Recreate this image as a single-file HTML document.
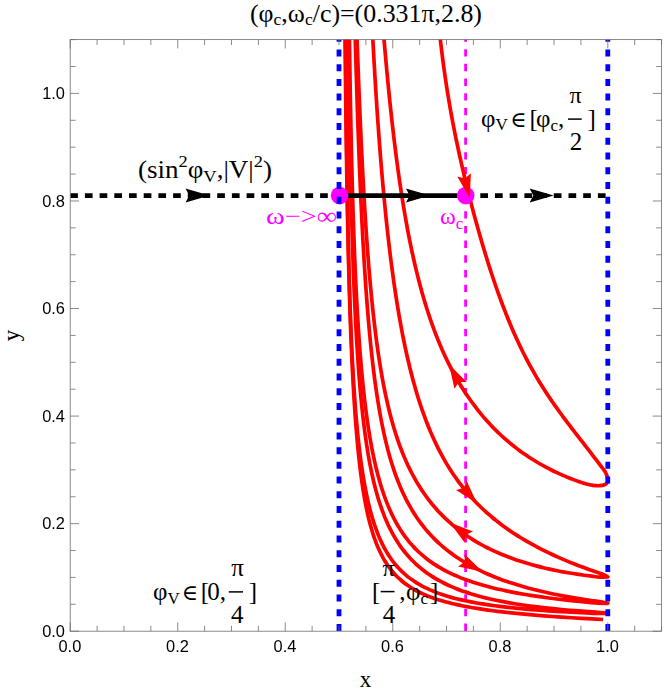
<!DOCTYPE html>
<html><head><meta charset="utf-8"><title>plot</title><style>html,body{margin:0;padding:0;background:#fff}svg{display:block}text{font-family:"Liberation Serif","DejaVu Serif",serif}.t{font-family:"Liberation Sans",sans-serif;font-size:16.4px;fill:#000}</style></head><body>
<svg width="664" height="695" viewBox="0 0 664 695">
<rect width="664" height="695" fill="#fff"/>
<defs><filter id="idf" x="0" y="0" width="664" height="695" filterUnits="userSpaceOnUse"><feOffset dx="0" dy="0"/></filter><clipPath id="cp"><rect x="70.20" y="39.62" width="591.36" height="591.58"/></clipPath></defs>
<g clip-path="url(#cp)">
<line x1="70.20" y1="195.58" x2="339.00" y2="195.58" stroke="#000" stroke-width="4.8" stroke-dasharray="7.7 7.0"/>
<line x1="465.60" y1="195.58" x2="607.80" y2="195.58" stroke="#000" stroke-width="4.8" stroke-dasharray="7.7 7.0"/>
<path d="M209.60 195.58 L185.60 202.58 L189.20 195.58 L185.60 188.58 Z" fill="#000"/>
<path d="M553.70 195.58 L529.70 202.58 L533.30 195.58 L529.70 188.58 Z" fill="#000"/>
<line x1="465.60" y1="630.90" x2="465.60" y2="39.62" stroke="#ff00ff" stroke-width="2.8" stroke-dasharray="7.3 7.43"/>
<path d="M439.68 33.62C439.86 35.25 440.41 40.22 440.78 43.39C441.15 46.56 441.53 49.65 441.90 52.67C442.28 55.69 442.65 58.62 443.03 61.50C443.41 64.38 443.79 67.19 444.17 69.94C444.56 72.70 444.94 75.38 445.33 78.03C445.71 80.67 446.10 83.25 446.49 85.80C446.89 88.34 447.28 90.83 447.67 93.29C448.07 95.74 448.47 98.15 448.87 100.52C449.27 102.90 449.67 105.23 450.07 107.54C450.48 109.84 450.88 112.11 451.29 114.36C451.70 116.60 452.11 118.81 452.52 121.00C452.94 123.19 453.35 125.35 453.77 127.49C454.19 129.63 454.61 131.74 455.03 133.84C455.45 135.94 455.88 138.02 456.30 140.08C456.73 142.14 457.16 144.18 457.59 146.21C458.02 148.24 458.46 150.25 458.89 152.25C459.33 154.25 459.77 156.23 460.21 158.21C460.65 160.18 461.09 162.14 461.54 164.09C461.99 166.05 462.43 167.99 462.88 169.92C463.34 171.85 463.79 173.77 464.24 175.69C464.70 177.60 465.16 179.51 465.62 181.41C466.08 183.31 466.54 185.20 467.01 187.09C467.47 188.97 467.94 190.85 468.41 192.73C468.89 194.60 469.36 196.47 469.83 198.33C470.31 200.19 470.79 202.04 471.27 203.89C471.75 205.75 472.24 207.59 472.72 209.43C473.21 211.27 473.70 213.10 474.19 214.93C474.68 216.76 475.18 218.59 475.67 220.40C476.17 222.22 476.67 224.04 477.17 225.85C477.68 227.65 478.18 229.46 478.69 231.26C479.20 233.05 479.71 234.85 480.22 236.63C480.74 238.42 481.25 240.20 481.77 241.98C482.29 243.75 482.82 245.52 483.34 247.28C483.87 249.05 484.39 250.80 484.93 252.55C485.46 254.30 485.99 256.05 486.53 257.79C487.06 259.52 487.60 261.25 488.15 262.98C488.69 264.70 489.24 266.42 489.78 268.12C490.33 269.83 490.88 271.53 491.44 273.23C491.99 274.92 492.55 276.60 493.11 278.28C493.67 279.96 494.24 281.62 494.80 283.28C495.37 284.94 495.94 286.59 496.51 288.24C497.09 289.88 497.66 291.51 498.24 293.13C498.82 294.76 499.40 296.37 499.99 297.98C500.58 299.58 501.17 301.18 501.76 302.76C502.35 304.35 502.95 305.92 503.54 307.49C504.14 309.05 504.74 310.61 505.35 312.15C505.96 313.69 506.56 315.23 507.18 316.75C507.79 318.27 508.40 319.79 509.02 321.29C509.64 322.79 510.26 324.28 510.89 325.76C511.51 327.24 512.14 328.71 512.77 330.17C513.41 331.63 514.04 333.08 514.68 334.51C515.32 335.95 515.96 337.38 516.61 338.79C517.26 340.20 517.91 341.61 518.56 343.00C519.21 344.39 519.87 345.78 520.53 347.15C521.19 348.52 521.86 349.88 522.52 351.23C523.19 352.58 523.86 353.92 524.54 355.24C525.21 356.57 525.89 357.89 526.57 359.20C527.26 360.50 527.94 361.80 528.63 363.09C529.32 364.38 530.02 365.65 530.71 366.92C531.41 368.19 532.11 369.45 532.82 370.69C533.52 371.94 534.23 373.18 534.95 374.41C535.66 375.64 536.38 376.86 537.10 378.08C537.82 379.29 538.54 380.49 539.27 381.69C540.00 382.89 540.73 384.08 541.47 385.26C542.21 386.44 542.95 387.61 543.69 388.78C544.44 389.94 545.19 391.10 545.94 392.26C546.69 393.41 547.45 394.56 548.21 395.70C548.97 396.84 549.74 397.98 550.51 399.11C551.28 400.24 552.05 401.36 552.83 402.49C553.61 403.61 554.39 404.72 555.17 405.84C555.96 406.95 556.75 408.06 557.55 409.17C558.34 410.28 559.14 411.38 559.95 412.49C560.75 413.59 561.56 414.69 562.37 415.79C563.18 416.89 564.00 417.99 564.82 419.09C565.64 420.19 566.47 421.29 567.30 422.39C568.13 423.49 568.97 424.59 569.81 425.69C570.65 426.80 571.49 427.90 572.34 429.01C573.19 430.12 574.04 431.22 574.90 432.34C575.76 433.45 576.62 434.57 577.49 435.69C578.36 436.81 579.23 437.93 580.11 439.06C580.99 440.19 581.87 441.33 582.76 442.47C583.64 443.62 584.53 444.76 585.43 445.92C586.33 447.08 587.23 448.24 588.14 449.41C589.04 450.58 589.95 451.76 590.87 452.95C591.79 454.13 592.71 455.33 593.63 456.54C594.56 457.74 595.49 458.96 596.43 460.18C597.37 461.41 598.31 462.65 599.26 463.89C600.20 465.14 601.15 466.40 602.11 467.67C603.07 468.94 604.29 470.39 605.00 471.51C605.71 472.64 605.98 473.42 606.40 474.40C606.82 475.38 607.25 476.42 607.50 477.40C607.75 478.38 607.98 479.38 607.90 480.30C607.82 481.22 607.57 482.15 607.00 482.90C606.43 483.65 605.67 484.33 604.50 484.80C603.33 485.27 601.92 485.62 600.00 485.70C598.08 485.78 595.42 485.63 593.00 485.30C590.58 484.97 588.00 484.37 585.50 483.70C583.00 483.03 580.00 481.94 578.00 481.26C576.00 480.58 575.01 480.19 573.53 479.63C572.05 479.07 570.59 478.51 569.14 477.93C567.69 477.35 566.26 476.76 564.84 476.16C563.42 475.56 562.01 474.95 560.61 474.33C559.22 473.71 557.84 473.08 556.47 472.44C555.10 471.79 553.74 471.14 552.40 470.48C551.06 469.81 549.73 469.14 548.41 468.46C547.09 467.77 545.79 467.08 544.49 466.37C543.20 465.67 541.92 464.96 540.65 464.23C539.38 463.51 538.12 462.77 536.88 462.03C535.63 461.29 534.40 460.53 533.18 459.77C531.95 459.01 530.74 458.23 529.54 457.45C528.34 456.67 527.16 455.87 525.98 455.07C524.80 454.27 523.64 453.46 522.48 452.64C521.33 451.82 520.18 450.99 519.05 450.15C517.92 449.31 516.79 448.46 515.68 447.60C514.57 446.74 513.47 445.87 512.38 444.99C511.29 444.12 510.20 443.23 509.13 442.33C508.06 441.44 507.00 440.53 505.95 439.62C504.90 438.70 503.86 437.78 502.83 436.84C501.80 435.91 500.78 434.96 499.76 434.01C498.75 433.06 497.75 432.10 496.76 431.12C495.76 430.15 494.78 429.17 493.81 428.18C492.83 427.19 491.87 426.19 490.91 425.18C489.95 424.17 489.01 423.15 488.07 422.12C487.13 421.09 486.20 420.05 485.28 419.01C484.36 417.96 483.45 416.90 482.54 415.83C481.64 414.76 480.75 413.69 479.86 412.60C478.97 411.51 478.10 410.41 477.23 409.30C476.36 408.20 475.49 407.08 474.64 405.95C473.79 404.82 472.94 403.68 472.10 402.53C471.26 401.38 470.43 400.22 469.61 399.05C468.79 397.88 467.98 396.70 467.17 395.51C466.36 394.32 465.56 393.12 464.77 391.90C463.98 390.69 463.20 389.46 462.42 388.23C461.64 386.99 460.87 385.74 460.11 384.48C459.35 383.23 458.59 381.96 457.85 380.67C457.10 379.39 456.36 378.10 455.62 376.79C454.89 375.48 454.16 374.17 453.44 372.84C452.72 371.50 452.01 370.16 451.30 368.81C450.59 367.45 449.89 366.08 449.20 364.70C448.51 363.32 447.82 361.92 447.14 360.52C446.46 359.11 445.78 357.69 445.12 356.25C444.45 354.82 443.79 353.37 443.13 351.91C442.48 350.44 441.83 348.97 441.18 347.48C440.54 345.98 439.90 344.48 439.27 342.96C438.64 341.44 438.02 339.90 437.40 338.35C436.78 336.80 436.16 335.24 435.56 333.65C434.95 332.07 434.35 330.48 433.75 328.86C433.15 327.25 432.56 325.62 431.98 323.97C431.39 322.33 430.81 320.66 430.24 318.98C429.66 317.30 429.10 315.61 428.53 313.89C427.97 312.18 427.41 310.45 426.86 308.70C426.30 306.95 425.76 305.18 425.21 303.39C424.67 301.61 424.13 299.80 423.60 297.98C423.07 296.16 422.54 294.32 422.02 292.45C421.50 290.59 420.98 288.71 420.47 286.81C419.95 284.91 419.45 282.99 418.94 281.05C418.44 279.11 417.94 277.15 417.45 275.16C416.95 273.18 416.46 271.18 415.98 269.15C415.50 267.13 415.02 265.08 414.54 263.02C414.06 260.95 413.59 258.86 413.13 256.75C412.66 254.64 412.20 252.50 411.74 250.35C411.28 248.19 410.83 246.01 410.38 243.81C409.93 241.61 409.49 239.38 409.04 237.14C408.60 234.89 408.17 232.62 407.73 230.32C407.30 228.02 406.87 225.71 406.45 223.36C406.02 221.02 405.60 218.65 405.19 216.26C404.77 213.87 404.36 211.45 403.95 209.01C403.54 206.57 403.14 204.10 402.73 201.61C402.33 199.12 401.94 196.60 401.54 194.06C401.15 191.52 400.76 188.95 400.37 186.36C399.99 183.77 399.60 181.15 399.22 178.51C398.85 175.86 398.47 173.20 398.10 170.50C397.73 167.81 397.36 165.09 396.99 162.35C396.63 159.60 396.27 156.83 395.91 154.04C395.55 151.24 395.19 148.42 394.84 145.58C394.49 142.74 394.14 139.87 393.80 136.97C393.45 134.08 393.11 131.16 392.77 128.22C392.44 125.28 392.10 122.31 391.77 119.32C391.44 116.33 391.11 113.32 390.78 110.28C390.45 107.25 390.13 104.19 389.81 101.11C389.49 98.03 389.18 94.92 388.86 91.80C388.55 88.68 388.24 85.53 387.93 82.37C387.62 79.21 387.32 76.02 387.01 72.82C386.71 69.62 386.41 66.40 386.12 63.16C385.82 59.92 385.53 56.67 385.23 53.40C384.94 50.13 384.66 46.85 384.37 43.55C384.08 40.25 383.66 35.27 383.52 33.62" fill="none" stroke="#ff0000" stroke-width="3.70" stroke-linejoin="round" stroke-linecap="butt"/>
<path d="M372.53 33.62C372.67 36.08 373.06 43.52 373.33 48.39C373.59 53.26 373.86 58.08 374.14 62.84C374.41 67.60 374.69 72.32 374.97 76.97C375.25 81.63 375.53 86.24 375.82 90.79C376.11 95.35 376.40 99.85 376.69 104.30C376.99 108.75 377.28 113.15 377.58 117.50C377.89 121.86 378.19 126.15 378.50 130.41C378.81 134.66 379.12 138.86 379.43 143.01C379.75 147.16 380.07 151.26 380.39 155.32C380.71 159.37 381.04 163.38 381.37 167.34C381.70 171.30 382.03 175.21 382.37 179.07C382.71 182.94 383.05 186.75 383.40 190.52C383.74 194.30 384.09 198.02 384.45 201.70C384.80 205.38 385.16 209.01 385.52 212.61C385.89 216.20 386.25 219.74 386.62 223.24C386.99 226.75 387.37 230.20 387.75 233.62C388.13 237.03 388.52 240.40 388.90 243.74C389.29 247.07 389.69 250.35 390.08 253.60C390.48 256.85 390.89 260.05 391.29 263.21C391.70 266.38 392.11 269.50 392.53 272.59C392.95 275.67 393.37 278.72 393.80 281.72C394.23 284.73 394.66 287.69 395.09 290.62C395.53 293.55 395.97 296.44 396.42 299.29C396.87 302.15 397.32 304.96 397.78 307.74C398.24 310.52 398.70 313.26 399.17 315.97C399.64 318.67 400.12 321.35 400.60 323.98C401.08 326.62 401.56 329.22 402.05 331.79C402.54 334.35 403.04 336.89 403.54 339.39C404.05 341.89 404.56 344.35 405.07 346.79C405.59 349.22 406.11 351.63 406.64 354.00C407.16 356.37 407.70 358.70 408.24 361.01C408.78 363.32 409.32 365.60 409.87 367.84C410.43 370.09 410.99 372.31 411.55 374.50C412.12 376.68 412.69 378.84 413.27 380.97C413.85 383.10 414.43 385.20 415.03 387.28C415.62 389.35 416.22 391.40 416.82 393.42C417.43 395.44 418.04 397.43 418.67 399.39C419.29 401.36 419.92 403.30 420.55 405.21C421.19 407.13 421.83 409.02 422.48 410.88C423.13 412.74 423.79 414.58 424.46 416.40C425.12 418.21 425.80 420.00 426.48 421.77C427.16 423.54 427.85 425.28 428.55 427.01C429.25 428.73 429.95 430.43 430.67 432.11C431.38 433.78 432.10 435.44 432.84 437.07C433.57 438.71 434.31 440.32 435.06 441.91C435.81 443.50 436.56 445.08 437.33 446.63C438.10 448.18 438.87 449.71 439.66 451.22C440.44 452.74 441.23 454.23 442.04 455.70C442.84 457.18 443.65 458.63 444.48 460.07C445.30 461.51 446.13 462.93 446.97 464.33C447.81 465.74 448.67 467.12 449.53 468.49C450.39 469.86 451.26 471.21 452.14 472.54C453.02 473.88 453.92 475.19 454.82 476.50C455.72 477.80 456.64 479.09 457.56 480.36C458.48 481.63 459.42 482.89 460.37 484.13C461.31 485.37 462.27 486.60 463.24 487.81C464.21 489.02 465.19 490.22 466.18 491.41C467.17 492.59 468.17 493.76 469.19 494.92C470.20 496.08 471.23 497.22 472.27 498.36C473.31 499.49 474.36 500.61 475.42 501.72C476.48 502.82 477.56 503.92 478.65 505.00C479.74 506.09 480.84 507.16 481.95 508.22C483.07 509.28 484.20 510.33 485.34 511.37C486.48 512.40 487.63 513.43 488.80 514.45C489.97 515.46 491.15 516.47 492.34 517.47C493.54 518.46 494.75 519.45 495.97 520.42C497.20 521.40 498.43 522.37 499.69 523.32C500.94 524.28 502.21 525.23 503.49 526.17C504.77 527.11 506.07 528.04 507.38 528.96C508.69 529.88 510.02 530.79 511.37 531.70C512.71 532.60 514.07 533.49 515.44 534.38C516.82 535.27 518.21 536.15 519.62 537.02C521.03 537.89 522.45 538.76 523.89 539.61C525.33 540.47 526.79 541.32 528.27 542.16C529.74 543.00 531.24 543.84 532.75 544.66C534.26 545.49 535.78 546.31 537.33 547.12C538.88 547.94 540.44 548.75 542.02 549.55C543.61 550.35 545.21 551.14 546.83 551.93C548.45 552.72 550.09 553.50 551.75 554.27C553.40 555.05 555.08 555.81 556.78 556.58C558.48 557.34 560.20 558.10 561.93 558.85C563.67 559.60 565.43 560.34 567.21 561.08C568.99 561.82 570.79 562.56 572.61 563.28C574.43 564.01 576.27 564.73 578.14 565.45C580.00 566.17 581.89 566.88 583.79 567.59C585.70 568.29 587.63 568.99 589.59 569.69C591.54 570.38 593.52 571.07 595.52 571.76C597.52 572.44 599.54 572.95 601.59 573.80C603.63 574.64 606.76 576.33 607.80 576.84L607.80 576.84C606.45 576.88 602.38 577.19 599.73 577.08C597.08 576.97 594.47 576.51 591.90 576.20C589.33 575.89 586.80 575.57 584.31 575.23C581.82 574.90 579.36 574.55 576.94 574.18C574.53 573.82 572.15 573.44 569.80 573.04C567.46 572.65 565.15 572.24 562.87 571.82C560.60 571.40 558.36 570.97 556.15 570.52C553.94 570.08 551.77 569.62 549.63 569.14C547.49 568.67 545.38 568.18 543.31 567.68C541.23 567.19 539.19 566.67 537.17 566.15C535.16 565.62 533.18 565.08 531.22 564.53C529.27 563.98 527.35 563.42 525.45 562.84C523.56 562.26 521.69 561.68 519.85 561.07C518.02 560.47 516.21 559.86 514.43 559.23C512.64 558.60 510.89 557.96 509.16 557.31C507.43 556.66 505.73 556.00 504.05 555.32C502.37 554.64 500.72 553.96 499.09 553.25C497.47 552.55 495.87 551.84 494.29 551.11C492.71 550.39 491.16 549.65 489.63 548.90C488.10 548.15 486.59 547.39 485.10 546.61C483.62 545.84 482.16 545.05 480.72 544.25C479.28 543.45 477.86 542.64 476.46 541.82C475.07 541.00 473.69 540.16 472.34 539.31C470.98 538.47 469.65 537.61 468.33 536.73C467.02 535.86 465.72 534.98 464.45 534.08C463.17 533.18 461.92 532.28 460.68 531.35C459.45 530.43 458.23 529.50 457.03 528.55C455.83 527.61 454.65 526.65 453.49 525.68C452.32 524.71 451.18 523.72 450.05 522.73C448.92 521.73 447.81 520.72 446.72 519.70C445.62 518.67 444.54 517.64 443.48 516.59C442.42 515.54 441.37 514.48 440.34 513.40C439.31 512.33 438.30 511.24 437.30 510.14C436.30 509.04 435.32 507.92 434.35 506.79C433.38 505.66 432.43 504.51 431.49 503.36C430.55 502.20 429.62 501.02 428.71 499.83C427.80 498.65 426.90 497.44 426.02 496.22C425.13 495.00 424.26 493.77 423.41 492.52C422.55 491.27 421.70 490.00 420.87 488.72C420.04 487.44 419.22 486.14 418.41 484.82C417.61 483.51 416.81 482.17 416.03 480.82C415.25 479.47 414.48 478.10 413.72 476.71C412.96 475.32 412.21 473.92 411.47 472.49C410.74 471.07 410.01 469.62 409.30 468.15C408.58 466.69 407.88 465.20 407.19 463.69C406.49 462.19 405.81 460.66 405.14 459.11C404.47 457.55 403.81 455.98 403.15 454.38C402.50 452.79 401.86 451.17 401.23 449.52C400.60 447.88 399.97 446.21 399.36 444.51C398.75 442.82 398.14 441.10 397.55 439.35C396.95 437.60 396.37 435.83 395.79 434.02C395.21 432.22 394.64 430.39 394.08 428.53C393.53 426.67 392.97 424.78 392.43 422.86C391.89 420.93 391.35 418.98 390.83 416.99C390.30 415.01 389.78 412.99 389.27 410.94C388.76 408.89 388.26 406.80 387.76 404.68C387.27 402.55 386.78 400.40 386.30 398.20C385.82 396.00 385.34 393.77 384.88 391.50C384.41 389.22 383.95 386.91 383.50 384.56C383.05 382.21 382.60 379.81 382.16 377.38C381.73 374.94 381.29 372.46 380.87 369.94C380.44 367.41 380.02 364.85 379.61 362.23C379.20 359.61 378.79 356.95 378.39 354.25C377.99 351.54 377.60 348.78 377.21 345.97C376.82 343.16 376.44 340.31 376.06 337.40C375.69 334.49 375.32 331.53 374.95 328.51C374.58 325.50 374.22 322.43 373.87 319.31C373.52 316.19 373.17 313.01 372.82 309.78C372.48 306.54 372.14 303.25 371.81 299.90C371.47 296.56 371.15 293.15 370.82 289.69C370.50 286.22 370.18 282.70 369.87 279.11C369.55 275.53 369.25 271.88 368.94 268.18C368.64 264.47 368.34 260.71 368.04 256.88C367.75 253.05 367.46 249.16 367.17 245.21C366.88 241.26 366.60 237.25 366.32 233.18C366.05 229.11 365.77 224.97 365.50 220.78C365.23 216.59 364.97 212.33 364.71 208.02C364.45 203.70 364.19 199.33 363.94 194.90C363.68 190.47 363.43 185.97 363.19 181.43C362.94 176.89 362.70 172.29 362.46 167.64C362.22 162.99 361.99 158.28 361.76 153.53C361.53 148.78 361.30 143.98 361.07 139.14C360.85 134.30 360.63 129.41 360.41 124.49C360.19 119.57 359.98 114.60 359.77 109.62C359.56 104.63 359.35 99.60 359.14 94.56C358.94 89.52 358.74 84.45 358.54 79.37C358.34 74.30 358.15 69.20 357.95 64.11C357.76 59.02 357.57 53.92 357.38 48.84C357.20 43.75 356.92 36.16 356.83 33.62" fill="none" stroke="#ff0000" stroke-width="3.70" stroke-linejoin="round" stroke-linecap="butt"/>
<path d="M355.09 33.62C355.18 36.71 355.44 46.02 355.61 52.17C355.79 58.31 355.96 64.42 356.14 70.48C356.33 76.53 356.51 82.55 356.70 88.50C356.88 94.46 357.07 100.36 357.26 106.20C357.46 112.04 357.65 117.82 357.85 123.54C358.05 129.25 358.25 134.90 358.46 140.47C358.66 146.05 358.87 151.56 359.08 156.99C359.29 162.43 359.51 167.79 359.73 173.07C359.95 178.36 360.17 183.57 360.39 188.70C360.62 193.83 360.85 198.89 361.08 203.87C361.32 208.85 361.55 213.75 361.79 218.57C362.03 223.39 362.28 228.13 362.52 232.80C362.77 237.46 363.02 242.05 363.28 246.56C363.54 251.06 363.80 255.49 364.06 259.85C364.33 264.20 364.59 268.48 364.87 272.68C365.14 276.88 365.42 281.00 365.70 285.05C365.98 289.10 366.27 293.08 366.56 296.98C366.85 300.88 367.14 304.71 367.44 308.47C367.74 312.23 368.05 315.92 368.36 319.54C368.67 323.16 368.98 326.71 369.30 330.19C369.62 333.67 369.94 337.09 370.27 340.44C370.60 343.79 370.94 347.08 371.28 350.30C371.62 353.53 371.96 356.69 372.32 359.79C372.67 362.89 373.02 365.93 373.39 368.91C373.75 371.89 374.12 374.82 374.49 377.69C374.87 380.55 375.25 383.37 375.63 386.12C376.02 388.88 376.41 391.59 376.81 394.24C377.21 396.90 377.61 399.50 378.03 402.05C378.44 404.60 378.86 407.10 379.28 409.56C379.70 412.02 380.14 414.43 380.57 416.79C381.01 419.15 381.46 421.47 381.91 423.75C382.36 426.03 382.82 428.26 383.29 430.45C383.76 432.64 384.23 434.79 384.71 436.90C385.20 439.01 385.69 441.08 386.18 443.12C386.68 445.15 387.19 447.15 387.70 449.11C388.21 451.07 388.73 453.00 389.26 454.89C389.79 456.78 390.33 458.64 390.88 460.47C391.43 462.29 391.98 464.08 392.55 465.85C393.11 467.61 393.69 469.34 394.27 471.04C394.85 472.75 395.44 474.42 396.05 476.06C396.65 477.71 397.26 479.32 397.88 480.92C398.50 482.51 399.13 484.07 399.77 485.61C400.41 487.15 401.06 488.66 401.72 490.15C402.39 491.64 403.06 493.10 403.74 494.54C404.42 495.98 405.12 497.40 405.82 498.80C406.53 500.20 407.24 501.57 407.97 502.92C408.70 504.28 409.43 505.61 410.19 506.92C410.94 508.24 411.70 509.53 412.47 510.80C413.25 512.08 414.04 513.33 414.83 514.57C415.63 515.80 416.45 517.02 417.27 518.22C418.10 519.42 418.94 520.60 419.79 521.77C420.64 522.94 421.51 524.09 422.38 525.22C423.26 526.35 424.16 527.47 425.06 528.57C425.97 529.67 426.89 530.76 427.83 531.83C428.77 532.90 429.72 533.96 430.69 535.00C431.65 536.04 432.63 537.07 433.63 538.08C434.63 539.10 435.64 540.10 436.67 541.08C437.70 542.07 438.75 543.04 439.81 544.00C440.88 544.96 441.96 545.91 443.05 546.84C444.15 547.78 445.27 548.70 446.40 549.61C447.53 550.52 448.68 551.41 449.85 552.30C451.02 553.18 452.21 554.06 453.41 554.92C454.62 555.78 455.85 556.63 457.09 557.47C458.34 558.31 459.60 559.14 460.89 559.95C462.17 560.77 463.48 561.57 464.80 562.37C466.13 563.16 467.48 563.94 468.85 564.72C470.22 565.49 471.61 566.25 473.02 567.00C474.43 567.75 475.87 568.49 477.33 569.22C478.79 569.96 480.27 570.68 481.77 571.39C483.28 572.10 484.81 572.79 486.36 573.48C487.92 574.17 489.50 574.85 491.10 575.52C492.70 576.19 494.33 576.85 495.99 577.50C497.64 578.15 499.32 578.79 501.03 579.42C502.74 580.06 504.48 580.68 506.24 581.29C508.01 581.90 509.80 582.50 511.62 583.09C513.44 583.69 515.29 584.27 517.17 584.84C519.04 585.42 520.95 585.98 522.89 586.54C524.83 587.09 526.80 587.64 528.80 588.18C530.80 588.71 532.84 589.24 534.90 589.76C536.97 590.28 539.07 590.79 541.20 591.29C543.33 591.79 545.50 592.28 547.70 592.77C549.90 593.25 552.13 593.72 554.41 594.19C556.68 594.66 558.98 595.11 561.33 595.56C563.67 596.01 566.05 596.45 568.47 596.88C570.89 597.31 573.35 597.74 575.85 598.15C578.35 598.57 580.88 598.97 583.46 599.37C586.04 599.77 588.66 600.16 591.32 600.54C593.98 600.93 596.68 601.19 599.43 601.67C602.18 602.14 606.40 603.09 607.80 603.38L607.80 603.38C606.19 603.35 601.30 603.38 598.14 603.22C594.98 603.05 591.87 602.67 588.82 602.39C585.78 602.10 582.78 601.82 579.85 601.52C576.91 601.23 574.02 600.93 571.19 600.63C568.36 600.33 565.58 600.02 562.84 599.70C560.11 599.39 557.43 599.07 554.80 598.74C552.16 598.41 549.58 598.08 547.04 597.74C544.50 597.40 542.01 597.05 539.56 596.70C537.12 596.34 534.72 595.98 532.36 595.62C530.00 595.25 527.68 594.88 525.41 594.50C523.13 594.11 520.90 593.73 518.71 593.33C516.51 592.93 514.36 592.53 512.25 592.12C510.13 591.71 508.06 591.29 506.02 590.86C503.98 590.43 501.98 590.00 500.02 589.55C498.05 589.11 496.12 588.66 494.23 588.20C492.34 587.73 490.48 587.26 488.65 586.78C486.82 586.31 485.03 585.82 483.27 585.32C481.51 584.82 479.78 584.31 478.09 583.79C476.39 583.28 474.72 582.75 473.09 582.21C471.45 581.67 469.85 581.13 468.27 580.57C466.69 580.01 465.14 579.44 463.62 578.86C462.10 578.28 460.61 577.69 459.14 577.09C457.68 576.48 456.24 575.87 454.82 575.24C453.41 574.62 452.02 573.98 450.66 573.33C449.30 572.68 447.96 572.02 446.65 571.34C445.33 570.67 444.05 569.98 442.78 569.28C441.51 568.58 440.27 567.87 439.05 567.14C437.83 566.41 436.63 565.67 435.45 564.92C434.28 564.17 433.12 563.40 431.99 562.62C430.85 561.83 429.74 561.04 428.64 560.22C427.55 559.41 426.48 558.59 425.42 557.74C424.37 556.90 423.33 556.04 422.32 555.17C421.30 554.30 420.30 553.41 419.32 552.50C418.34 551.60 417.38 550.68 416.43 549.74C415.49 548.80 414.56 547.85 413.65 546.87C412.74 545.90 411.85 544.91 410.97 543.90C410.09 542.90 409.23 541.87 408.38 540.83C407.53 539.78 406.70 538.72 405.89 537.64C405.07 536.56 404.27 535.46 403.48 534.34C402.70 533.22 401.92 532.08 401.17 530.92C400.41 529.76 399.66 528.58 398.93 527.38C398.20 526.18 397.48 524.96 396.78 523.72C396.07 522.47 395.38 521.21 394.70 519.92C394.02 518.64 393.35 517.33 392.70 516.00C392.04 514.67 391.40 513.32 390.77 511.94C390.14 510.56 389.52 509.16 388.91 507.74C388.30 506.31 387.70 504.86 387.11 503.39C386.53 501.92 385.95 500.42 385.38 498.89C384.82 497.37 384.26 495.82 383.72 494.24C383.17 492.67 382.64 491.06 382.11 489.43C381.58 487.80 381.07 486.15 380.56 484.46C380.05 482.77 379.56 481.06 379.07 479.31C378.58 477.57 378.10 475.80 377.63 473.99C377.16 472.19 376.69 470.35 376.24 468.49C375.78 466.62 375.34 464.72 374.90 462.79C374.46 460.86 374.03 458.90 373.61 456.90C373.19 454.90 372.77 452.87 372.37 450.80C371.96 448.74 371.56 446.63 371.17 444.49C370.77 442.35 370.39 440.18 370.01 437.96C369.63 435.75 369.26 433.50 368.90 431.20C368.53 428.91 368.17 426.57 367.82 424.20C367.47 421.82 367.12 419.40 366.79 416.94C366.45 414.47 366.11 411.97 365.79 409.41C365.46 406.86 365.14 404.26 364.82 401.61C364.51 398.96 364.20 396.27 363.90 393.52C363.59 390.77 363.29 387.97 363.00 385.11C362.71 382.26 362.42 379.35 362.14 376.38C361.86 373.41 361.58 370.39 361.31 367.30C361.03 364.22 360.77 361.07 360.51 357.86C360.24 354.65 359.99 351.38 359.73 348.03C359.48 344.69 359.23 341.28 358.99 337.79C358.74 334.31 358.50 330.75 358.27 327.11C358.03 323.47 357.80 319.76 357.58 315.96C357.35 312.16 357.13 308.29 356.91 304.31C356.69 300.34 356.48 296.28 356.26 292.13C356.05 287.97 355.85 283.72 355.64 279.36C355.44 275.01 355.24 270.55 355.05 265.98C354.85 261.41 354.66 256.74 354.47 251.94C354.28 247.13 354.10 242.22 353.91 237.17C353.73 232.12 353.55 226.95 353.38 221.63C353.20 216.31 353.03 210.86 352.86 205.25C352.69 199.64 352.53 193.89 352.36 187.96C352.20 182.03 352.04 175.95 351.88 169.68C351.72 163.40 351.57 156.97 351.42 150.32C351.27 143.67 351.12 136.85 350.97 129.79C350.83 122.73 350.68 115.49 350.54 107.98C350.40 100.48 350.26 92.77 350.13 84.78C349.99 76.79 349.86 68.56 349.73 60.04C349.60 51.51 349.41 38.02 349.34 33.62" fill="none" stroke="#ff0000" stroke-width="3.70" stroke-linejoin="round" stroke-linecap="butt"/>
<path d="M348.22 33.62C348.28 38.03 348.45 51.51 348.58 60.10C348.70 68.70 348.82 77.04 348.94 85.18C349.07 93.31 349.20 101.22 349.33 108.92C349.46 116.63 349.59 124.12 349.73 131.42C349.86 138.73 350.00 145.82 350.14 152.75C350.28 159.67 350.43 166.40 350.57 172.96C350.72 179.53 350.87 185.91 351.02 192.14C351.17 198.37 351.33 204.43 351.48 210.35C351.64 216.26 351.80 222.01 351.97 227.63C352.13 233.25 352.30 238.72 352.47 244.05C352.64 249.39 352.81 254.59 352.99 259.66C353.16 264.74 353.34 269.68 353.53 274.51C353.71 279.34 353.90 284.04 354.09 288.64C354.28 293.24 354.47 297.72 354.67 302.09C354.87 306.47 355.07 310.74 355.28 314.91C355.48 319.09 355.69 323.16 355.90 327.14C356.12 331.12 356.34 335.00 356.56 338.80C356.78 342.59 357.01 346.30 357.24 349.93C357.47 353.55 357.70 357.09 357.94 360.56C358.18 364.03 358.42 367.41 358.67 370.73C358.92 374.04 359.17 377.28 359.43 380.45C359.69 383.62 359.95 386.72 360.22 389.75C360.49 392.79 360.76 395.76 361.04 398.67C361.32 401.58 361.60 404.42 361.89 407.21C362.18 410.00 362.48 412.73 362.78 415.40C363.08 418.08 363.38 420.70 363.69 423.27C364.01 425.84 364.32 428.35 364.65 430.82C364.97 433.28 365.30 435.70 365.64 438.07C365.97 440.44 366.32 442.77 366.67 445.05C367.02 447.33 367.37 449.56 367.74 451.76C368.10 453.96 368.47 456.11 368.85 458.22C369.22 460.33 369.61 462.41 370.00 464.44C370.39 466.48 370.79 468.48 371.20 470.44C371.60 472.40 372.02 474.33 372.44 476.22C372.86 478.11 373.29 479.97 373.73 481.80C374.17 483.62 374.62 485.42 375.07 487.18C375.53 488.94 375.99 490.67 376.46 492.37C376.94 494.08 377.42 495.75 377.91 497.39C378.40 499.04 378.90 500.65 379.41 502.24C379.93 503.83 380.45 505.39 380.98 506.93C381.51 508.46 382.05 509.97 382.60 511.45C383.15 512.94 383.71 514.40 384.28 515.83C384.85 517.27 385.44 518.68 386.03 520.07C386.62 521.46 387.23 522.82 387.85 524.17C388.46 525.51 389.09 526.83 389.73 528.13C390.37 529.43 391.03 530.71 391.69 531.96C392.36 533.22 393.04 534.46 393.73 535.67C394.42 536.89 395.12 538.09 395.84 539.26C396.56 540.44 397.29 541.60 398.04 542.73C398.78 543.87 399.54 544.99 400.32 546.09C401.09 547.19 401.88 548.28 402.68 549.34C403.49 550.40 404.31 551.45 405.14 552.48C405.98 553.51 406.83 554.52 407.70 555.52C408.57 556.51 409.45 557.49 410.35 558.45C411.25 559.42 412.17 560.36 413.11 561.29C414.04 562.22 415.00 563.13 415.97 564.03C416.94 564.93 417.93 565.81 418.94 566.68C419.95 567.54 420.98 568.39 422.03 569.23C423.08 570.07 424.15 570.89 425.24 571.69C426.33 572.50 427.44 573.29 428.57 574.07C429.70 574.85 430.85 575.61 432.03 576.36C433.20 577.11 434.40 577.85 435.62 578.57C436.84 579.29 438.08 580.00 439.35 580.69C440.62 581.39 441.91 582.07 443.23 582.74C444.54 583.41 445.89 584.06 447.25 584.71C448.62 585.35 450.01 585.98 451.43 586.60C452.86 587.21 454.30 587.82 455.78 588.41C457.25 589.01 458.75 589.59 460.29 590.16C461.82 590.72 463.38 591.28 464.97 591.83C466.56 592.37 468.18 592.91 469.84 593.43C471.49 593.95 473.17 594.46 474.89 594.96C476.61 595.46 478.36 595.95 480.14 596.43C481.92 596.91 483.74 597.38 485.59 597.84C487.44 598.29 489.33 598.74 491.25 599.18C493.18 599.61 495.13 600.04 497.13 600.46C499.13 600.87 501.16 601.28 503.24 601.68C505.31 602.07 507.43 602.46 509.58 602.84C511.74 603.22 513.93 603.59 516.17 603.95C518.41 604.31 520.69 604.66 523.01 605.00C525.34 605.34 527.71 605.67 530.12 606.00C532.54 606.32 534.99 606.63 537.50 606.94C540.01 607.25 542.56 607.55 545.17 607.84C547.77 608.13 550.43 608.41 553.13 608.69C555.84 608.96 558.59 609.23 561.40 609.48C564.21 609.74 567.07 609.99 569.99 610.24C572.91 610.48 575.88 610.72 578.91 610.95C581.95 611.18 585.03 611.40 588.18 611.61C591.33 611.83 594.53 611.96 597.80 612.23C601.07 612.51 606.13 613.10 607.80 613.28L607.80 613.28C605.96 613.29 600.37 613.39 596.77 613.33C593.17 613.26 589.65 613.03 586.20 612.88C582.74 612.73 579.36 612.57 576.05 612.41C572.74 612.24 569.50 612.08 566.33 611.90C563.15 611.73 560.05 611.55 557.00 611.37C553.96 611.18 550.98 611.00 548.06 610.80C545.14 610.61 542.28 610.41 539.48 610.20C536.68 609.99 533.94 609.78 531.25 609.56C528.57 609.34 525.94 609.12 523.37 608.89C520.79 608.66 518.27 608.42 515.80 608.17C513.33 607.93 510.92 607.68 508.55 607.42C506.18 607.16 503.86 606.90 501.59 606.62C499.32 606.35 497.10 606.07 494.92 605.78C492.74 605.49 490.61 605.19 488.52 604.89C486.43 604.58 484.39 604.27 482.39 603.95C480.39 603.63 478.43 603.30 476.51 602.96C474.58 602.62 472.71 602.27 470.86 601.91C469.02 601.56 467.22 601.19 465.45 600.81C463.69 600.43 461.96 600.05 460.27 599.65C458.57 599.25 456.91 598.85 455.29 598.43C453.67 598.01 452.08 597.58 450.52 597.14C448.96 596.70 447.44 596.25 445.94 595.79C444.45 595.32 442.99 594.85 441.56 594.36C440.12 593.87 438.72 593.38 437.35 592.86C435.97 592.35 434.63 591.83 433.31 591.29C432.00 590.75 430.71 590.20 429.44 589.64C428.18 589.07 426.94 588.49 425.73 587.90C424.52 587.31 423.34 586.70 422.17 586.08C421.01 585.46 419.88 584.82 418.76 584.17C417.65 583.51 416.56 582.85 415.49 582.16C414.42 581.48 413.38 580.78 412.35 580.06C411.33 579.35 410.32 578.62 409.34 577.87C408.36 577.12 407.40 576.35 406.46 575.56C405.51 574.78 404.59 573.98 403.69 573.16C402.78 572.33 401.90 571.50 401.03 570.64C400.17 569.78 399.32 568.90 398.49 568.00C397.66 567.11 396.84 566.19 396.05 565.25C395.25 564.32 394.47 563.36 393.71 562.38C392.94 561.41 392.20 560.41 391.46 559.39C390.73 558.37 390.01 557.33 389.31 556.26C388.61 555.20 387.92 554.11 387.25 553.00C386.57 551.90 385.91 550.76 385.27 549.61C384.62 548.46 383.99 547.28 383.37 546.08C382.75 544.87 382.14 543.65 381.55 542.40C380.95 541.14 380.37 539.87 379.80 538.57C379.23 537.27 378.67 535.94 378.13 534.59C377.58 533.24 377.05 531.86 376.52 530.45C376.00 529.05 375.49 527.61 374.98 526.15C374.48 524.69 373.99 523.21 373.51 521.69C373.02 520.17 372.55 518.63 372.09 517.06C371.63 515.48 371.18 513.88 370.73 512.25C370.29 510.62 369.86 508.95 369.43 507.26C369.01 505.57 368.59 503.84 368.18 502.09C367.78 500.33 367.38 498.54 366.99 496.72C366.59 494.90 366.21 493.05 365.84 491.16C365.46 489.27 365.10 487.35 364.74 485.40C364.38 483.44 364.03 481.45 363.68 479.42C363.34 477.39 363.00 475.33 362.67 473.23C362.34 471.12 362.01 468.98 361.70 466.80C361.38 464.62 361.07 462.41 360.77 460.15C360.46 457.88 360.16 455.58 359.87 453.24C359.58 450.90 359.30 448.51 359.02 446.08C358.74 443.64 358.46 441.17 358.19 438.64C357.93 436.12 357.66 433.54 357.41 430.92C357.15 428.30 356.90 425.63 356.65 422.90C356.41 420.17 356.16 417.40 355.93 414.56C355.69 411.72 355.46 408.83 355.23 405.88C355.01 402.93 354.78 399.92 354.57 396.84C354.35 393.76 354.14 390.63 353.93 387.42C353.72 384.21 353.52 380.93 353.32 377.58C353.12 374.22 352.92 370.80 352.73 367.30C352.54 363.79 352.35 360.21 352.17 356.53C351.98 352.86 351.80 349.11 351.63 345.26C351.45 341.40 351.28 337.46 351.11 333.41C350.94 329.37 350.77 325.22 350.61 320.96C350.45 316.70 350.29 312.34 350.13 307.84C349.98 303.35 349.83 298.75 349.68 294.00C349.53 289.25 349.38 284.38 349.24 279.35C349.10 274.32 348.96 269.17 348.82 263.83C348.68 258.50 348.55 253.02 348.42 247.34C348.28 241.67 348.16 235.84 348.03 229.79C347.90 223.74 347.78 217.52 347.66 211.06C347.54 204.60 347.42 197.94 347.30 191.02C347.19 184.10 347.07 176.96 346.96 169.53C346.85 162.09 346.74 154.42 346.64 146.42C346.53 138.41 346.43 130.14 346.32 121.50C346.22 112.86 346.12 103.92 346.02 94.57C345.92 85.21 345.83 75.52 345.73 65.37C345.64 55.21 345.50 38.91 345.46 33.62" fill="none" stroke="#ff0000" stroke-width="3.70" stroke-linejoin="round" stroke-linecap="butt"/>
<path d="M345.02 33.62C345.07 38.10 345.19 51.78 345.28 60.49C345.37 69.19 345.46 77.63 345.56 85.85C345.65 94.07 345.74 102.05 345.84 109.83C345.94 117.62 346.04 125.18 346.14 132.56C346.24 139.94 346.34 147.11 346.45 154.12C346.55 161.13 346.66 167.95 346.77 174.62C346.88 181.28 346.99 187.77 347.11 194.12C347.22 200.47 347.34 206.66 347.46 212.71C347.58 218.77 347.70 224.67 347.83 230.45C347.95 236.24 348.08 241.88 348.21 247.40C348.34 252.93 348.47 258.32 348.61 263.60C348.75 268.89 348.88 274.05 349.03 279.11C349.17 284.17 349.31 289.12 349.46 293.96C349.61 298.81 349.76 303.55 349.92 308.20C350.07 312.85 350.23 317.39 350.39 321.85C350.55 326.30 350.72 330.66 350.88 334.94C351.05 339.22 351.22 343.40 351.40 347.51C351.57 351.61 351.75 355.63 351.94 359.57C352.12 363.51 352.31 367.37 352.50 371.16C352.69 374.94 352.89 378.65 353.08 382.28C353.28 385.92 353.49 389.48 353.70 392.97C353.90 396.46 354.12 399.88 354.33 403.23C354.55 406.58 354.77 409.86 355.00 413.08C355.23 416.30 355.46 419.46 355.69 422.55C355.93 425.64 356.17 428.67 356.42 431.64C356.66 434.60 356.92 437.51 357.17 440.36C357.43 443.21 357.69 446.00 357.96 448.73C358.23 451.47 358.50 454.14 358.79 456.76C359.07 459.39 359.35 461.95 359.64 464.47C359.94 466.99 360.23 469.45 360.54 471.86C360.84 474.27 361.16 476.63 361.47 478.94C361.79 481.25 362.12 483.51 362.45 485.73C362.78 487.94 363.12 490.11 363.47 492.23C363.81 494.35 364.17 496.43 364.53 498.46C364.89 500.49 365.26 502.47 365.64 504.42C366.01 506.36 366.40 508.26 366.79 510.12C367.19 511.98 367.59 513.79 368.00 515.57C368.41 517.35 368.83 519.09 369.26 520.79C369.69 522.49 370.12 524.15 370.57 525.77C371.02 527.39 371.47 528.98 371.94 530.53C372.41 532.08 372.88 533.60 373.37 535.08C373.86 536.56 374.35 538.01 374.86 539.42C375.37 540.83 375.89 542.21 376.42 543.56C376.95 544.91 377.49 546.23 378.04 547.51C378.60 548.80 379.16 550.06 379.74 551.28C380.31 552.51 380.90 553.71 381.50 554.88C382.11 556.05 382.72 557.19 383.35 558.31C383.98 559.42 384.62 560.51 385.27 561.57C385.93 562.63 386.60 563.67 387.28 564.68C387.97 565.69 388.66 566.68 389.38 567.65C390.09 568.61 390.82 569.55 391.56 570.47C392.31 571.39 393.07 572.28 393.84 573.16C394.62 574.03 395.41 574.88 396.22 575.72C397.03 576.55 397.86 577.36 398.71 578.16C399.55 578.95 400.42 579.72 401.30 580.48C402.18 581.23 403.08 581.97 404.00 582.69C404.92 583.40 405.86 584.11 406.82 584.79C407.78 585.47 408.76 586.14 409.77 586.79C410.77 587.44 411.79 588.08 412.84 588.70C413.88 589.32 414.95 589.93 416.04 590.52C417.13 591.11 418.25 591.68 419.39 592.25C420.52 592.81 421.69 593.36 422.87 593.90C424.06 594.43 425.27 594.96 426.51 595.47C427.75 595.98 429.02 596.48 430.31 596.97C431.61 597.45 432.92 597.93 434.27 598.40C435.62 598.86 437.00 599.31 438.41 599.76C439.82 600.20 441.25 600.64 442.72 601.06C444.19 601.48 445.69 601.90 447.22 602.30C448.76 602.71 450.32 603.10 451.92 603.49C453.52 603.88 455.15 604.25 456.82 604.62C458.49 604.99 460.19 605.36 461.93 605.71C463.68 606.06 465.45 606.41 467.27 606.75C469.09 607.09 470.94 607.42 472.84 607.74C474.73 608.07 476.67 608.39 478.64 608.70C480.62 609.01 482.64 609.32 484.70 609.61C486.77 609.91 488.87 610.21 491.03 610.49C493.18 610.78 495.38 611.06 497.63 611.34C499.87 611.62 502.16 611.89 504.51 612.15C506.85 612.42 509.25 612.68 511.69 612.94C514.14 613.19 516.63 613.45 519.19 613.69C521.74 613.94 524.34 614.18 527.01 614.42C529.67 614.66 532.39 614.90 535.16 615.13C537.94 615.36 540.78 615.59 543.68 615.81C546.58 616.03 549.54 616.25 552.56 616.47C555.59 616.69 558.67 616.90 561.83 617.11C564.98 617.32 568.20 617.52 571.50 617.73C574.79 617.93 578.15 618.13 581.59 618.33C585.02 618.53 588.53 618.72 592.12 618.91C595.70 619.11 601.27 619.39 603.10 619.48" fill="none" stroke="#ff0000" stroke-width="3.70" stroke-linejoin="round" stroke-linecap="butt"/>
<line x1="347.80" y1="195.58" x2="457.40" y2="195.58" stroke="#000" stroke-width="4.8"/>
<path d="M430.00 195.58 L406.00 202.58 L409.60 195.58 L406.00 188.58 Z" fill="#000"/>
<circle cx="339.60" cy="195.58" r="8.8" fill="#ff00ff"/>
<circle cx="465.70" cy="195.58" r="8.8" fill="#ff00ff"/>
<path d="M469.81 198.23 L457.27 176.60 L464.93 178.42 L470.86 173.25 Z" fill="#ff0000"/>
<path d="M448.98 364.26 L466.71 381.88 L458.85 382.12 L454.46 388.65 Z" fill="#ff0000"/>
<path d="M477.14 503.48 L456.08 490.01 L463.72 488.12 L466.62 480.80 Z" fill="#ff0000"/>
<path d="M449.73 522.44 L473.04 531.48 L465.93 534.84 L464.53 542.59 Z" fill="#ff0000"/>
<path d="M482.53 571.74 L458.10 566.45 L464.60 562.01 L464.77 554.14 Z" fill="#ff0000"/>
<line x1="339.00" y1="630.90" x2="339.00" y2="39.62" stroke="#0000ff" stroke-width="4.8" stroke-dasharray="7.0 7.73"/>
<line x1="607.80" y1="630.90" x2="607.80" y2="39.62" stroke="#0000ff" stroke-width="4.8" stroke-dasharray="7.0 7.73"/>
</g>
<path d="M70.20 631.20v-8.80M70.20 39.62v8.80M70.20 631.20h8.80M661.56 631.20h-8.80M97.08 631.20v-5.40M97.08 39.62v5.40M70.20 604.31h5.40M661.56 604.31h-5.40M123.96 631.20v-5.40M123.96 39.62v5.40M70.20 577.42h5.40M661.56 577.42h-5.40M150.84 631.20v-5.40M150.84 39.62v5.40M70.20 550.53h5.40M661.56 550.53h-5.40M177.72 631.20v-8.80M177.72 39.62v8.80M70.20 523.64h8.80M661.56 523.64h-8.80M204.60 631.20v-5.40M204.60 39.62v5.40M70.20 496.75h5.40M661.56 496.75h-5.40M231.48 631.20v-5.40M231.48 39.62v5.40M70.20 469.86h5.40M661.56 469.86h-5.40M258.36 631.20v-5.40M258.36 39.62v5.40M70.20 442.97h5.40M661.56 442.97h-5.40M285.24 631.20v-8.80M285.24 39.62v8.80M70.20 416.08h8.80M661.56 416.08h-8.80M312.12 631.20v-5.40M312.12 39.62v5.40M70.20 389.19h5.40M661.56 389.19h-5.40M339.00 631.20v-5.40M339.00 39.62v5.40M70.20 362.30h5.40M661.56 362.30h-5.40M365.88 631.20v-5.40M365.88 39.62v5.40M70.20 335.41h5.40M661.56 335.41h-5.40M392.76 631.20v-8.80M392.76 39.62v8.80M70.20 308.52h8.80M661.56 308.52h-8.80M419.64 631.20v-5.40M419.64 39.62v5.40M70.20 281.63h5.40M661.56 281.63h-5.40M446.52 631.20v-5.40M446.52 39.62v5.40M70.20 254.74h5.40M661.56 254.74h-5.40M473.40 631.20v-5.40M473.40 39.62v5.40M70.20 227.85h5.40M661.56 227.85h-5.40M500.28 631.20v-8.80M500.28 39.62v8.80M70.20 200.96h8.80M661.56 200.96h-8.80M527.16 631.20v-5.40M527.16 39.62v5.40M70.20 174.07h5.40M661.56 174.07h-5.40M554.04 631.20v-5.40M554.04 39.62v5.40M70.20 147.18h5.40M661.56 147.18h-5.40M580.92 631.20v-5.40M580.92 39.62v5.40M70.20 120.29h5.40M661.56 120.29h-5.40M607.80 631.20v-8.80M607.80 39.62v8.80M70.20 93.40h8.80M661.56 93.40h-8.80M634.68 631.20v-5.40M634.68 39.62v5.40M70.20 66.51h5.40M661.56 66.51h-5.40M661.56 631.20v-5.40M661.56 39.62v5.40M70.20 39.62h5.40M661.56 39.62h-5.40" stroke="#6e6e6e" stroke-width="0.8" fill="none"/>
<rect x="70.20" y="39.62" width="591.36" height="591.58" fill="none" stroke="#6e6e6e" stroke-width="0.8"/>
<g filter="url(#idf)">
<text class="t" x="69.90" y="651.70" text-anchor="middle">0.0</text>
<text class="t" x="65.00" y="637.00" text-anchor="end">0.0</text>
<text class="t" x="177.42" y="651.70" text-anchor="middle">0.2</text>
<text class="t" x="65.00" y="529.44" text-anchor="end">0.2</text>
<text class="t" x="284.94" y="651.70" text-anchor="middle">0.4</text>
<text class="t" x="65.00" y="421.88" text-anchor="end">0.4</text>
<text class="t" x="392.46" y="651.70" text-anchor="middle">0.6</text>
<text class="t" x="65.00" y="314.32" text-anchor="end">0.6</text>
<text class="t" x="499.98" y="651.70" text-anchor="middle">0.8</text>
<text class="t" x="65.00" y="206.76" text-anchor="end">0.8</text>
<text class="t" x="607.50" y="651.70" text-anchor="middle">1.0</text>
<text class="t" x="65.00" y="99.20" text-anchor="end">1.0</text>
</g>
<g>
<text x="250" y="21.5" font-size="25" fill="#000" textLength="232" lengthAdjust="spacingAndGlyphs">(φ<tspan font-size="17" dy="3.8">c</tspan><tspan dy="-3.8">,ω</tspan><tspan font-size="17" dy="3.8">c</tspan><tspan dy="-3.8">/c)=(0.331π,2.8)</tspan></text>
<text x="138" y="178.1" font-size="25" fill="#000" textLength="134" lengthAdjust="spacingAndGlyphs">(sin<tspan font-size="17" dy="-11.2">2</tspan><tspan dy="11.2">φ</tspan><tspan font-size="17" dy="3.8">V</tspan><tspan dy="-3.8">,|V|</tspan><tspan font-size="17" dy="-11.2">2</tspan><tspan dy="11.2">)</tspan></text>
<text x="481" y="126.5" font-size="25" fill="#000">φ<tspan font-size="17" dy="3.8">V</tspan></text>
<text x="518.3" y="126.5" font-size="22" fill="#000" text-anchor="middle">∈</text>
<text x="529.5" y="126.5" font-size="25" fill="#000">[</text>
<text x="536" y="126.5" font-size="25" fill="#000">φ<tspan font-size="17" dy="4.4">c</tspan><tspan dy="-4.4">,</tspan></text>
<text x="575.5" y="102.5" font-size="24" fill="#000" text-anchor="middle">π</text>
<text x="576" y="150" font-size="25" fill="#000" text-anchor="middle">2</text>
<text x="587.5" y="126.5" font-size="25" fill="#000">]</text>
<text x="153" y="600" font-size="25" fill="#000">φ<tspan font-size="17" dy="4">V</tspan></text>
<text x="189.9" y="600" font-size="22" fill="#000" text-anchor="middle">∈</text>
<text x="200.8" y="600" font-size="25" fill="#000">[</text>
<text x="207.2" y="600" font-size="25" fill="#000">0,</text>
<text x="237.5" y="576" font-size="25" fill="#000" text-anchor="middle">π</text>
<text x="237.3" y="623" font-size="25" fill="#000" text-anchor="middle">4</text>
<text x="248.8" y="600" font-size="25" fill="#000">]</text>
<text x="372" y="600" font-size="25" fill="#000">[</text>
<text x="388.5" y="575.8" font-size="24" fill="#000" text-anchor="middle">π</text>
<text x="389" y="622.5" font-size="25" fill="#000" text-anchor="middle">4</text>
<text x="399.3" y="600" font-size="25" fill="#000">,</text>
<text x="406" y="600" font-size="25" fill="#000">φ<tspan font-size="17" dy="4.4">c</tspan></text>
<text x="430" y="600" font-size="25" fill="#000">]</text>
<text x="365.4" y="686.8" font-size="23" fill="#000" text-anchor="middle">x</text>
<path d="M568.00 119.10H581.70" stroke="#000" stroke-width="1.50"/>
<path d="M228.80 591.90H243.00" stroke="#000" stroke-width="1.50"/>
<path d="M380.70 591.60H394.50" stroke="#000" stroke-width="1.50"/>
<text x="266" y="223.5" font-size="24" fill="#ff00ff" textLength="71" lengthAdjust="spacingAndGlyphs">ω−&gt;∞</text>
<text x="440" y="223.5" font-size="24" fill="#ff00ff">ω<tspan font-size="17" dy="5">c</tspan></text>
<text x="-335.5" y="19.1" font-size="23" fill="#000" text-anchor="middle" transform="rotate(-90)">y</text>
</g>
</svg></body></html>
